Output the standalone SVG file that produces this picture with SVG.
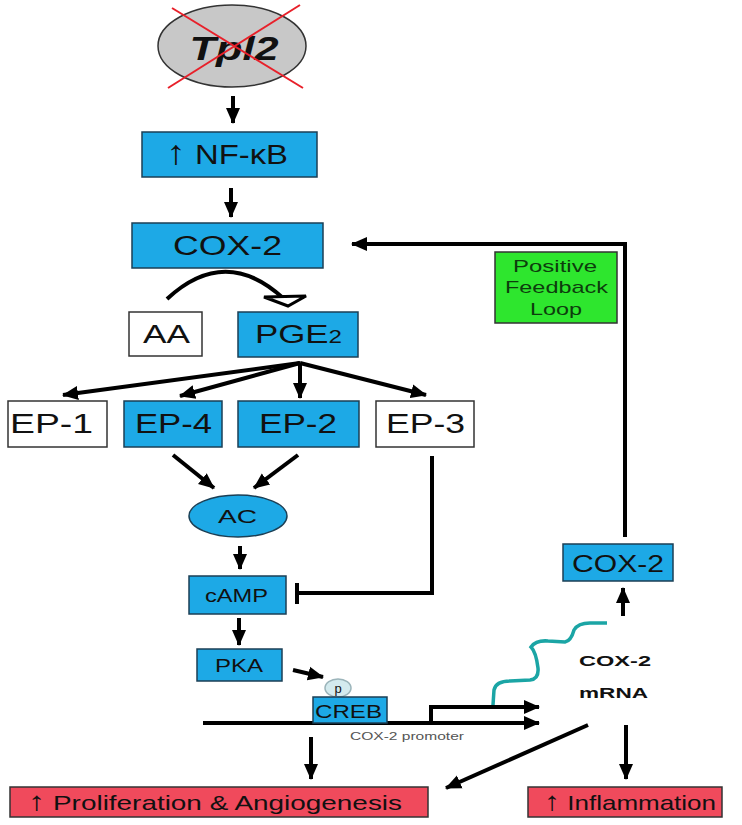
<svg xmlns="http://www.w3.org/2000/svg" width="742" height="825" viewBox="0 0 742 825">
<defs>
<style>
text{font-family:"Liberation Sans",Arial,sans-serif;fill:#111;}
.blue{fill:#1DA9E6;stroke:#1b3f55;stroke-width:1.5;}
.white{fill:#fff;stroke:#333;stroke-width:1.5;}
.red{fill:#F04A5C;stroke:#333;stroke-width:1.5;}
.green{fill:#2EE62E;stroke:#333;stroke-width:1.5;}
.arr{stroke:#000;stroke-width:4;fill:none;marker-end:url(#ah);}
.ln{stroke:#000;stroke-width:4;fill:none;}
</style>
<marker id="ah" markerUnits="userSpaceOnUse" markerWidth="16" markerHeight="16" viewBox="0 0 16 16" refX="15" refY="8" orient="auto">
<path d="M0,1 L16,8 L0,15 Z" fill="#000"/>
</marker>
</defs>
<rect width="742" height="825" fill="#fff"/>

<g id="connectors">
<line class="arr" x1="233" y1="96" x2="233" y2="123"/>
<line class="arr" x1="231" y1="188" x2="231" y2="217"/>
<polyline class="arr" stroke-width="5" points="625,537 625,244 352,244"/>
<path class="ln" stroke-width="3.5" d="M167,299 Q225,245 283,298"/>
<polygon points="264,297 306,296 288,306" fill="#fff" stroke="#000" stroke-width="3"/>
<line class="arr" stroke-width="3.5" x1="300" y1="363" x2="63" y2="395"/>
<line class="arr" stroke-width="3.5" x1="300" y1="363" x2="180" y2="396"/>
<line class="arr" stroke-width="3.5" x1="300" y1="363" x2="300" y2="398"/>
<line class="arr" stroke-width="3.5" x1="300" y1="363" x2="426" y2="395"/>
<line class="arr" stroke-width="3.5" x1="173" y1="455" x2="214" y2="488"/>
<line class="arr" stroke-width="3.5" x1="298" y1="455" x2="254" y2="488"/>
<polyline class="ln" points="432,456 432,593 297,593"/>
<line class="ln" x1="297" y1="583" x2="297" y2="604"/>
<line class="arr" x1="240" y1="546" x2="240" y2="569"/>
<line class="arr" x1="239" y1="618" x2="239" y2="645"/>
<line class="arr" stroke-width="3" x1="293" y1="670" x2="323" y2="677"/>
<line class="arr" x1="203" y1="723" x2="539" y2="723"/>
<polyline class="arr" points="431,723 431,707 539,707"/>
<path d="M493,705 L494,690 Q496,681 510,681 L530,680 Q539,679 538,668 Q536,652 531,647 Q536,640 548,641 L565,642 Q571,641 574,630 Q578,623 590,623 L607,623" fill="none" stroke="#1BA5A5" stroke-width="3.5"/>
<line class="arr" x1="623" y1="616" x2="623" y2="588"/>
<line class="arr" x1="311" y1="737" x2="311" y2="779"/>
<line class="arr" x1="588" y1="725" x2="446" y2="788"/>
<line class="arr" x1="626" y1="725" x2="626" y2="779"/>
</g>

<g id="tpl2">
<ellipse cx="232" cy="46" rx="74" ry="41" fill="#c8c8c8" stroke="#333" stroke-width="1.5"/>
<text x="234" y="60" font-size="33" font-weight="bold" font-style="italic" text-anchor="middle" textLength="89" lengthAdjust="spacingAndGlyphs">Tpl2</text>
<line x1="172" y1="8" x2="303" y2="88" stroke="#E8202A" stroke-width="2"/>
<line x1="300" y1="5" x2="168" y2="88" stroke="#E8202A" stroke-width="2"/>
</g>

<g id="nfkb">
<rect class="blue" x="142" y="132" width="175" height="45"/>
<text x="227" y="164" font-size="28" text-anchor="middle" textLength="122" lengthAdjust="spacingAndGlyphs"><tspan font-size="34">↑</tspan> NF-κB</text>
</g>

<g id="cox2-top">
<rect class="blue" x="132" y="223" width="191" height="45"/>
<text x="227.5" y="255" font-size="27" text-anchor="middle" textLength="109" lengthAdjust="spacingAndGlyphs">COX-2</text>
</g>

<g id="feedback">
<rect class="green" x="495" y="252" width="122" height="71"/>
<text x="555" y="272" font-size="17" text-anchor="middle" textLength="84" lengthAdjust="spacingAndGlyphs" style="fill:#0d3d0d">Positive</text>
<text x="556.5" y="293" font-size="17" text-anchor="middle" textLength="103" lengthAdjust="spacingAndGlyphs" style="fill:#0d3d0d">Feedback</text>
<text x="556" y="315" font-size="17" text-anchor="middle" textLength="52" lengthAdjust="spacingAndGlyphs" style="fill:#0d3d0d">Loop</text>
</g>

<g id="aa">
<rect class="white" x="129" y="312" width="73" height="44"/>
<text x="166.5" y="343" font-size="26" text-anchor="middle" textLength="47" lengthAdjust="spacingAndGlyphs">AA</text>
</g>

<g id="pge2">
<rect class="blue" x="238" y="312" width="120" height="45"/>
<text x="298.5" y="343" font-size="26" text-anchor="middle" textLength="87" lengthAdjust="spacingAndGlyphs">PGE<tspan font-size="18">2</tspan></text>
</g>

<g id="ep1">
<rect class="white" x="8" y="401" width="99" height="46"/>
<text x="51.5" y="433" font-size="28" text-anchor="middle" textLength="83" lengthAdjust="spacingAndGlyphs">EP-1</text>
</g>
<g id="ep4">
<rect class="blue" x="124" y="401" width="98" height="46"/>
<text x="173.5" y="433" font-size="28" text-anchor="middle" textLength="77" lengthAdjust="spacingAndGlyphs">EP-4</text>
</g>
<g id="ep2">
<rect class="blue" x="238" y="401" width="121" height="46"/>
<text x="298" y="433" font-size="28" text-anchor="middle" textLength="78" lengthAdjust="spacingAndGlyphs">EP-2</text>
</g>
<g id="ep3">
<rect class="white" x="376" y="401" width="98" height="46"/>
<text x="425.5" y="433" font-size="28" text-anchor="middle" textLength="79" lengthAdjust="spacingAndGlyphs">EP-3</text>
</g>

<g id="ac">
<ellipse class="blue" cx="238" cy="516" rx="49" ry="21"/>
<text x="237.5" y="523" font-size="18" text-anchor="middle" textLength="39" lengthAdjust="spacingAndGlyphs">AC</text>
</g>

<g id="camp">
<rect class="blue" x="189" y="576" width="97" height="38"/>
<text x="236.5" y="602" font-size="18" text-anchor="middle" textLength="63" lengthAdjust="spacingAndGlyphs">cAMP</text>
</g>

<g id="pka">
<rect class="blue" x="197" y="649" width="85" height="32"/>
<text x="239" y="672" font-size="18" text-anchor="middle" textLength="48" lengthAdjust="spacingAndGlyphs">PKA</text>
</g>

<g id="p">
<ellipse cx="338" cy="688" rx="13" ry="9" fill="#d3eaee" stroke="#9bb4ba" stroke-width="1.5"/>
<text x="338" y="693" font-size="13" text-anchor="middle">p</text>
</g>

<g id="creb">
<rect class="blue" x="313" y="697" width="74" height="26"/>
<text x="348.5" y="718" font-size="18" text-anchor="middle" textLength="67" lengthAdjust="spacingAndGlyphs">CREB</text>
</g>

<g id="promoter">
<text x="407" y="740" font-size="11" text-anchor="middle" textLength="114" lengthAdjust="spacingAndGlyphs" style="fill:#555">COX-2 promoter</text>
</g>

<g id="mrna">
<text x="615" y="666" font-size="15" font-weight="bold" text-anchor="middle" textLength="72" lengthAdjust="spacingAndGlyphs">COX-2</text>
<text x="613.5" y="698" font-size="15" font-weight="bold" text-anchor="middle" textLength="69" lengthAdjust="spacingAndGlyphs">mRNA</text>
</g>

<g id="cox2-right">
<rect class="blue" x="563" y="544" width="110" height="37"/>
<text x="618" y="572" font-size="23" text-anchor="middle" textLength="92" lengthAdjust="spacingAndGlyphs">COX-2</text>
</g>

<g id="proliferation">
<rect class="red" x="10" y="787" width="418" height="30"/>
<text x="215" y="810" font-size="21" text-anchor="middle" textLength="374" lengthAdjust="spacingAndGlyphs"><tspan font-size="26">↑</tspan> Proliferation &amp; Angiogenesis</text>
</g>

<g id="inflammation">
<rect class="red" x="528" y="787" width="194" height="30"/>
<text x="630" y="810" font-size="21" text-anchor="middle" textLength="172" lengthAdjust="spacingAndGlyphs"><tspan font-size="26">↑</tspan> Inflammation</text>
</g>
</svg>
